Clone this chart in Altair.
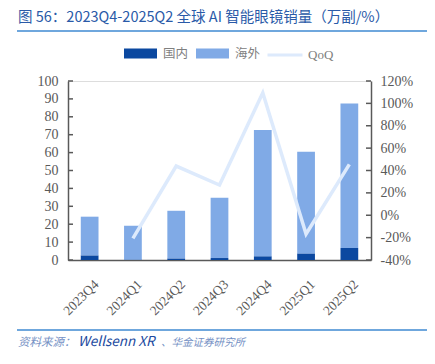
import altair as alt
import pandas as pd

quarters = ["2023Q4", "2024Q1", "2024Q2", "2024Q3", "2024Q4", "2025Q1", "2025Q2"]
domestic = [2.6, 0.3, 0.9, 1.1, 2.1, 3.7, 6.7]
overseas = [21.6, 18.9, 26.6, 33.7, 70.5, 56.8, 80.8]
qoq = [None, -20.6, 44.0, 27.0, 109.5, -16.8, 45.5]
series_names = ["国内", "海外"]
line_name = "QoQ"
left_ticks = [0, 10, 20, 30, 40, 50, 60, 70, 80, 90, 100]
right_ticks = [-40, -20, 0, 20, 40, 60, 80, 100, 120]
title_text = "图 56：2023Q4-2025Q2 全球 AI 智能眼镜销量（万副/%）"
source_parts = ["资料来源：", "Wellsenn XR", "、华金证券研究所"]

C_DOM = "#0B48A0"
C_OVS = "#80AAE6"
C_LINE = "#DDEAFC"
AX = "#595959"
W, H = 303, 179

rows = []
for i, q in enumerate(quarters):
    rows.append({"quarter": q, "type": series_names[0], "value": domestic[i], "ord": 0})
    rows.append({"quarter": q, "type": series_names[1], "value": overseas[i], "ord": 1})
bar_df = pd.DataFrame(rows)
line_df = pd.DataFrame({"quarter": quarters, "qoq": qoq, "s": [line_name] * len(quarters)}).dropna()

xaxis = alt.Axis(title=None, labelAngle=-45, labelAlign="right", labelBaseline="top",
                 tickSize=0, labelPadding=17, labelOffset=2,
                 labelFont="Liberation Serif", labelFontSize=13.5, labelColor=AX,
                 domainColor=AX, domainWidth=1.5)
laxis = alt.Axis(title=None, values=left_ticks, tickSize=0, labelPadding=10, grid=False,
                 labelFont="Liberation Serif", labelFontSize=14, labelColor=AX,
                 domainColor=AX, domainWidth=1.5)
raxis = alt.Axis(title=None, orient="right", values=right_ticks, tickSize=0, labelPadding=9,
                 grid=False, labelExpr="datum.value + '%'",
                 labelFont="Liberation Serif", labelFontSize=14, labelColor=AX,
                 domainColor=AX, domainWidth=1.5)
xscale = alt.Scale(paddingInner=0.59, paddingOuter=0.295)

bars = alt.Chart(bar_df).mark_bar().encode(
    x=alt.X("quarter:N", sort=quarters, scale=xscale, axis=xaxis),
    y=alt.Y("value:Q", stack=True, scale=alt.Scale(domain=[0, 100]), axis=laxis),
    fill=alt.Fill("type:N", scale=alt.Scale(domain=series_names, range=[C_DOM, C_OVS]),
                  legend=alt.Legend(title=None, orient="none", legendX=56, legendY=-44,
                                    direction="horizontal", symbolType="M-1,-0.3H1V0.3H-1Z",
                                    symbolSize=1089, symbolStrokeWidth=0, labelFont="Noto Sans CJK SC",
                                    labelFontSize=12.5, labelColor="#808080", labelOffset=6,
                                    columnPadding=7, padding=0)),
    order=alt.Order("ord:Q"),
)

lticks = alt.Chart(pd.DataFrame({"value": left_ticks})).mark_rule(color=AX, strokeWidth=1.5).encode(
    y=alt.Y("value:Q", scale=alt.Scale(domain=[0, 100]), axis=laxis),
    x=alt.value(0), x2=alt.value(5))

line = alt.Chart(line_df).mark_line(strokeWidth=3.5, strokeJoin="miter").encode(
    x=alt.X("quarter:N", sort=quarters, scale=xscale, axis=xaxis),
    y=alt.Y("qoq:Q", scale=alt.Scale(domain=[-40, 120]), axis=raxis),
    stroke=alt.Stroke("s:N", scale=alt.Scale(domain=[line_name], range=[C_LINE]),
                      legend=alt.Legend(title=None, orient="none", legendX=198, legendY=-45,
                                        symbolType="M-1,0H1", symbolSize=1225, symbolStrokeWidth=3,
                                        labelFont="Liberation Serif", labelFontSize=13,
                                        labelColor="#808080", labelOffset=4, padding=0)),
)

rticks = alt.Chart(pd.DataFrame({"qoq": right_ticks})).mark_rule(color=AX, strokeWidth=1.5).encode(
    y=alt.Y("qoq:Q", scale=alt.Scale(domain=[-40, 120]), axis=raxis),
    x=alt.value(W - 5), x2=alt.value(W))

title = alt.Chart(pd.DataFrame({"t": [title_text]})).mark_text(
    align="left", baseline="alphabetic", font="Noto Sans CJK SC", fontSize=14.5, color="#2A5AA8"
).encode(text="t:N", x=alt.value(-50), y=alt.value(-59))

title_rule = alt.Chart(pd.DataFrame({"a": [0]})).mark_rule(color="#3F8AD2", strokeWidth=1.5).encode(
    x=alt.value(-51), x2=alt.value(365), y=alt.value(-50))
foot_rule = alt.Chart(pd.DataFrame({"a": [0]})).mark_rule(color="#3F8AD2", strokeWidth=1.5).encode(
    x=alt.value(-51), x2=alt.value(365), y=alt.value(249))

src_df = pd.DataFrame({"t": source_parts, "xp": [-50, 10, 93], "fs": [11.5, 13.5, 10.5],
                       "c": ["#7490C4", "#1B4AA0", "#7490C4"]})
foot = alt.Chart(src_df).mark_text(
    align="left", baseline="alphabetic", font="Noto Sans CJK SC", fontStyle="italic"
).encode(text="t:N", x=alt.X("xp:Q", scale=None), y=alt.value(265),
         size=alt.Size("fs:Q", scale=None), color=alt.Color("c:N", scale=None))

left = alt.layer(bars, lticks)
right = alt.layer(line, rticks)
chart = alt.layer(left, right, title, title_rule, foot_rule, foot).resolve_scale(y="independent").properties(
    width=W, height=H,
    autosize=alt.AutoSizeParams(type="none"),
    padding={"left": 60, "top": 73, "right": 56, "bottom": 96},
).configure_view(stroke=None).configure(background="white")

chart.save("out.html", embed_options={"renderer": "svg", "actions": False})
